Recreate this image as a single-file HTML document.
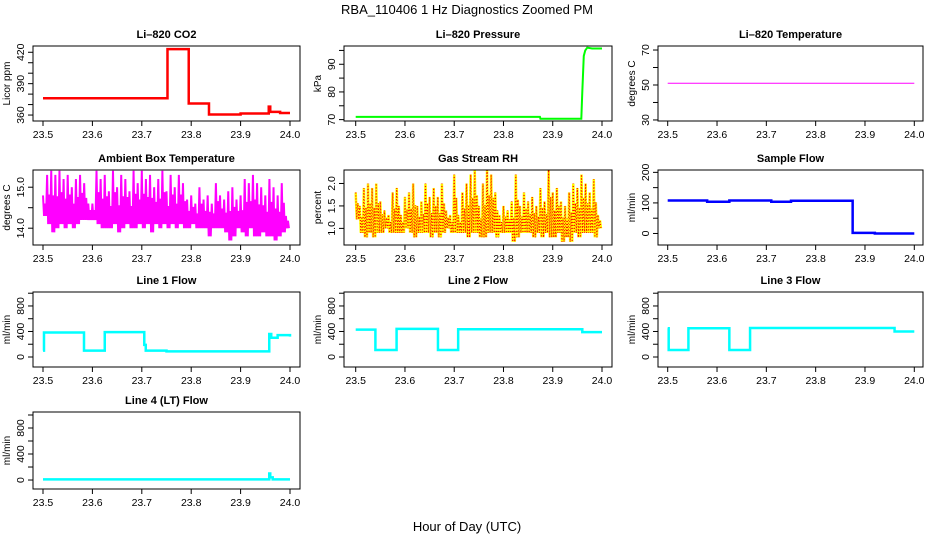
<!DOCTYPE html>
<html><head><meta charset="utf-8"><style>
body{margin:0;background:#fff}
svg{display:block;font-family:"Liberation Sans",sans-serif}
.tk{font-size:10.5px}
.tt{font-size:11px;font-weight:bold}
.yl{font-size:10px}
</style></head><body>
<svg id="c" width="936" height="540" viewBox="0 0 936 540">
<text x="467" y="14" text-anchor="middle" font-size="13">RBA_110406  1 Hz Diagnostics Zoomed PM</text>
<text x="467" y="531" text-anchor="middle" font-size="13">Hour of Day (UTC)</text>
</svg>
<script>
// x tick labels
const xTicks = [23.5, 23.6, 23.7, 23.8, 23.9, 24.0];
// Li-820 CO2 step series
const co2T = [23.5, 23.752, 23.795, 23.836, 23.9, 23.957, 23.96, 23.98, 24.0];
const co2V = [376, 423, 371, 360.5, 361.5, 368, 363, 362, 362];
// Pressure (linear)
const presT = [23.5, 23.874, 23.875, 23.958, 23.96, 23.963, 23.966, 23.97, 23.98, 24.0];
const presV = [71, 71, 70.3, 70.3, 80, 93, 95, 96, 95.7, 95.7];
// Li-820 temperature
const tempT = [23.5, 24.0];
const tempV = [51, 51];
// Ambient box temperature bins (high/low)
const ambHi = [14.8,15.3,15.4,15.3,15.4,15.2,15.3,15.0,15.2,15.3,15.1,14.6,14.6,15.4,15.2,15.3,14.9,15.4,15.0,15.3,15.2,14.9,15.4,15.1,15.4,15.2,15.3,15.0,15.2,15.4,14.9,15.3,15.0,15.3,15.1,14.7,14.8,14.6,15.0,14.7,14.8,14.6,15.1,14.8,14.7,14.9,15.0,14.7,14.8,15.2,15.1,15.3,15.1,15.0,14.8,15.2,15.0,14.8,15.1,14.3];
const ambLo = [14.3,14.1,13.9,14.0,14.1,14.0,14.1,14.0,14.1,14.2,14.2,14.2,14.2,14.1,14.0,14.0,14.0,14.1,13.9,14.0,14.1,14.0,14.0,14.1,14.0,14.1,13.9,14.1,14.0,14.1,14.0,14.1,14.0,14.1,14.0,14.0,14.1,14.0,14.0,14.0,13.8,14.0,14.0,14.0,13.9,13.7,13.8,14.0,13.9,13.8,14.0,13.8,13.8,13.9,13.8,13.8,13.7,13.8,13.9,14.0];
// Gas stream RH bins (high/low)
const rhHi = [1.8,1.5,1.9,2.0,1.9,2.0,1.6,1.4,1.3,1.8,1.9,1.3,1.7,1.8,2.0,1.5,1.6,2.0,1.7,1.9,1.7,2.0,1.4,1.3,2.2,1.3,1.8,2.0,2.2,2.3,1.5,2.0,2.3,2.2,1.8,1.3,1.5,1.4,1.6,2.2,1.5,1.8,1.6,1.7,1.5,1.9,1.6,2.3,1.8,1.9,1.6,1.5,1.8,2.0,1.9,2.2,2.0,1.8,2.1,1.3];
const rhLo = [1.2,0.9,0.8,0.9,0.8,0.9,0.9,1.0,0.9,0.9,0.9,0.9,1.0,0.9,0.8,0.9,0.9,0.9,0.8,0.9,0.8,0.9,1.0,0.9,0.9,0.9,0.9,0.8,0.9,0.9,0.8,0.8,0.9,0.9,0.8,0.9,0.9,0.9,0.7,0.8,0.9,0.9,0.9,0.8,0.9,0.8,0.9,0.8,0.8,0.9,0.7,0.8,0.7,0.9,0.8,0.9,0.9,0.9,0.8,1.0];
// Sample flow step
const sfT = [23.5, 23.58, 23.625, 23.71, 23.75, 23.875, 23.92, 24.0];
const sfV = [108, 104, 108, 104, 107, 2, 0, 0];
// Line flows step
const l1T = [23.5, 23.502, 23.583, 23.625, 23.705, 23.708, 23.75, 23.958, 23.962, 23.975, 24.0];
const l1V = [100, 384, 99, 390, 190, 99, 88, 360, 301, 343, 320];
const l2T = [23.5, 23.54, 23.583, 23.667, 23.708, 23.96, 24.0];
const l2V = [430, 110, 440, 110, 435, 390, 390];
const l3T = [23.5, 23.502, 23.542, 23.625, 23.667, 23.96, 24.0];
const l3V = [450, 110, 450, 110, 455, 400, 400];
const l4T = [23.5, 23.958, 23.96, 23.965, 24.0];
const l4V = [10, 100, 40, 10, 10];

const NS = 'http://www.w3.org/2000/svg';
const svg = document.getElementById('c');
function mk(tag, attrs, parent) {
  const e = document.createElementNS(NS, tag);
  for (const k in attrs) e.setAttribute(k, attrs[k]);
  (parent || svg).appendChild(e);
  return e;
}
const cols = [[33, 300, 43, 290], [344, 612, 355.7, 602], [658, 923, 667.7, 914.3]];
const rows = [[46, 121], [170, 245], [292, 367], [412, 489]];

function panel(name, title, ylab, col, row, ylim, ticks, labels, draw) {
  const [bx0, bx1, xa, xb] = cols[col];
  const [by0, by1] = rows[row];
  const g = mk('g', {});
  
  
  const X = t => xa + (t - 23.5) / 0.5 * (xb - xa);
  const Y = v => by1 - (v - ylim[0]) / (ylim[1] - ylim[0]) * (by1 - by0);
  const ttl = mk('text', {x: (bx0 + bx1) / 2, y: by0 - 8, 'text-anchor': 'middle', class: 'tt'}, g);
  ttl.textContent = title;
  
  
  const yl = mk('text', {x: 0, y: 0, 'text-anchor': 'middle', class: 'yl', transform: `translate(${bx0 - 23},${(by0 + by1) / 2}) rotate(-90)`}, g);
  yl.textContent = ylab;
  
  
  const clip = mk('clipPath', {id: 'cl' + name}, g);
  mk('rect', {x: bx0, y: by0, width: bx1 - bx0, height: by1 - by0}, clip);
  const dg = mk('g', {'clip-path': `url(#cl${name})`}, g);
  
  
  draw(dg, X, Y);
  const box = mk('rect', {x: bx0, y: by0, width: bx1 - bx0, height: by1 - by0, fill: 'none', stroke: '#000', 'stroke-width': 1}, g);
  
  
  xTicks.forEach(t => {
    mk('line', {x1: X(t), x2: X(t), y1: by1, y2: by1 + 5, stroke: '#000'}, g);
    const tx = mk('text', {x: X(t), y: by1 + 17, 'text-anchor': 'middle', class: 'tk'}, g);
    tx.textContent = t.toFixed(1);
    
    
  });
  ticks.forEach(v => {
    mk('line', {x1: bx0 - 5, x2: bx0, y1: Y(v), y2: Y(v), stroke: '#000'}, g);
  });
  labels.forEach(v => {
    const tx = mk('text', {x: 0, y: 0, 'text-anchor': 'middle', class: 'tk', transform: `translate(${bx0 - 9},${Y(v)}) rotate(-90)`}, g);
    tx.textContent = v.toFixed(String(v).includes('.') || (name === 'ambient' || name === 'rh') ? 1 : 0);
    
    
  });
}
function stepPath(T, V, X, Y) {
  let d = `M${X(T[0])},${Y(V[0])}`;
  for (let i = 1; i < T.length; i++) d += `H${X(T[i])}V${Y(V[i])}`;
  return d;
}
function linePath(T, V, X, Y) {
  return T.map((t, i) => (i ? 'L' : 'M') + X(t) + ',' + Y(V[i])).join('');
}
function bandPath(hi, lo, X, Y) {
  const n = hi.length; let d = '';
  for (let i = 0; i < n; i++) {
    const t0 = 23.5 + i * 0.5 / n, t1 = 23.5 + (i + 1) * 0.5 / n;
    const k = 4;
    for (let j = 0; j < k; j++) {
      const ta = t0 + (t1 - t0) * j / k;
      const v = j % 2 ? lo[i] : (j === 0 ? hi[i] : (hi[i] + lo[i]) / 2 + (hi[i] - lo[i]) * 0.1);
      d += (d ? 'L' : 'M') + X(ta) + ',' + Y(v);
    }
  }
  return d;
}
function stepSeries(col) {
  return (T, V) => (g, X, Y) => {
    const p = mk('path', {d: stepPath(T, V, X, Y), fill: 'none', stroke: col, 'stroke-width': 2.5}, g);
    
    
  };
}
const lineTicks = [0, 200, 400, 600, 800, 1000];
const lineLabs = [0, 400, 800];

panel('co2', 'Li\u2013820 CO2', 'Licor ppm', 0, 0, [354.3, 426], [360, 370, 380, 390, 400, 410, 420], [360, 390, 420], stepSeries('#f00')(co2T, co2V));
panel('pressure', 'Li\u2013820 Pressure', 'kPa', 1, 0, [69.5, 96.6], [70, 75, 80, 85, 90, 95], [70, 80, 90], (g, X, Y) => {
  const p = mk('path', {d: linePath(presT, presV, X, Y), fill: 'none', stroke: '#0f0', 'stroke-width': 2}, g);
  
  
});
panel('temperature', 'Li\u2013820 Temperature', 'degrees C', 2, 0, [29.4, 72.3], [30, 40, 50, 60, 70], [30, 50, 70], (g, X, Y) => {
  const p = mk('path', {d: linePath(tempT, tempV, X, Y), fill: 'none', stroke: '#f0f', 'stroke-width': 1}, g);
  
  
});
panel('ambient', 'Ambient Box Temperature', 'degrees C', 0, 1, [13.59, 15.42], [14.0, 14.5, 15.0], [14.0, 15.0], (g, X, Y) => {
  const p = mk('path', {d: bandPath(ambHi, ambLo, X, Y), fill: 'none', stroke: '#f0f', 'stroke-width': 2}, g);
  
  
});
panel('rh', 'Gas Stream RH', 'percent', 1, 1, [0.63, 2.30], [1.0, 1.5, 2.0], [1.0, 1.5, 2.0], (g, X, Y) => {
  const d = bandPath(rhHi, rhLo, X, Y);
  const p = mk('path', {d, fill: 'none', stroke: '#ff0', 'stroke-width': 2.5}, g);
  
  
  const q = mk('path', {d, fill: 'none', stroke: '#f00', 'stroke-width': 1.2, 'stroke-dasharray': '1 2'}, g);
  
  
});
panel('sample-flow', 'Sample Flow', 'ml/min', 2, 1, [-37.7, 207.7], [0, 50, 100, 150, 200], [0, 100, 200], stepSeries('#00f')(sfT, sfV));
panel('line1', 'Line 1 Flow', 'ml/min', 0, 2, [-157, 1019], lineTicks, lineLabs, stepSeries('#0ff')(l1T, l1V));
panel('line2', 'Line 2 Flow', 'ml/min', 1, 2, [-157, 1019], lineTicks, lineLabs, stepSeries('#0ff')(l2T, l2V));
panel('line3', 'Line 3 Flow', 'ml/min', 2, 2, [-157, 1019], lineTicks, lineLabs, stepSeries('#0ff')(l3T, l3V));
panel('line4', 'Line 4 (LT) Flow', 'ml/min', 0, 3, [-138, 1046], lineTicks, lineLabs, stepSeries('#0ff')(l4T, l4V));
</script>
</body></html>
